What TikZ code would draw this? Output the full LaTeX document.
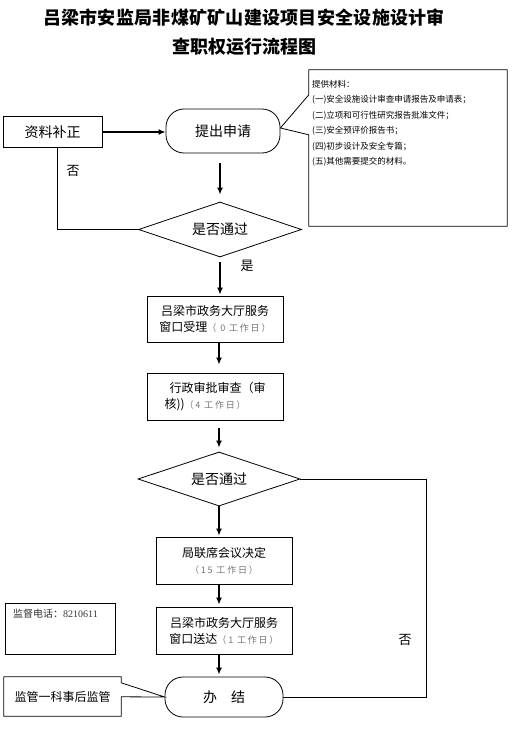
\documentclass[tikz,border=0pt]{standalone}
\usepackage{fontspec}
\setmainfont{Noto Sans CJK SC}
\newfontfamily\numfont{Liberation Serif}
\usetikzlibrary{arrows.meta, shapes.geometric}
\newcommand{\workday}[1]{{\fontsize{9}{16}\selectfont\addfontfeature{LetterSpace=20}\color{black!55}#1}}

\begin{document}
\begin{tikzpicture}[
    x=1pt, y=-1pt,
    >={Latex[length=7pt, width=6pt]},
  ]
  \tikzset{
    proc_box/.style = {draw, line width=0.8pt, minimum width=136pt, minimum height=47pt, align=center, font=\fontsize{12}{16}\selectfont},
    end_box/.style = {draw, line width=0.8pt, rounded corners=18pt, minimum width=116pt, minimum height=42pt, font=\fontsize{14}{16}\selectfont},
    ask_box/.style = {draw, diamond, aspect=3, line width=0.8pt, minimum width=163pt, minimum height=55pt, inner sep=0pt, font=\fontsize{14}{16}\selectfont},
    flow_arr/.style = {->, line width=1.8pt},
    side_txt/.style = {font=\fontsize{13}{15}\selectfont},
  }
  \useasboundingbox (0,0) rectangle (530,738);

  % Title
  \node (head_a) at (244,18) {\fontsize{18}{18}\selectfont\bfseries\addfontfeature{LetterSpace=1.5}吕梁市安监局非煤矿矿山建设项目安全设施设计审};
  \node (head_b) at (244,47) {\fontsize{18}{18}\selectfont\bfseries 查职权运行流程图};

  % Main column
  \node[end_box, minimum width=114pt, minimum height=44pt] (submit) at (223,131) {提出申请};
  \node[ask_box] (ask_a) at (220,229.5) {是否通过};
  \node[proc_box, minimum height=46pt] (accept) at (215,319) {吕梁市政务大厅服务\\窗口受理\workday{（ 0 工作日）}};
  \node[proc_box, align=left] (review) at (215,396.5) {\hspace{5pt}行政审批审查（审\\核))\workday{（4 工作日）}};
  \node[ask_box, minimum width=162pt, minimum height=54pt] (ask_b) at (219,479) {是否通过};
  \node[proc_box] (meeting) at (224,560.5) {局联席会议决定\\\workday{（15 工作日）}};
  \node[proc_box] (deliver) at (224,630.5) {吕梁市政务大厅服务\\窗口送达\workday{（1 工作日）}};
  \node[end_box, minimum width=118pt, minimum height=40pt] (done) at (224,697) {办\hspace{14pt}结};

  % Left side boxes
  \node[draw, line width=0.8pt, minimum width=99pt, minimum height=31pt, font=\fontsize{14}{16}\selectfont] (fix) at (52.5,132) {资料补正};
  \node[draw, line width=0.8pt, minimum width=110pt, minimum height=51pt] (phone) at (60,628.5) {};
  \node[anchor=north west, inner sep=0pt, font=\fontsize{10}{12}\selectfont, text=black!80] (phone_txt) at (13,609) {监督电话：{\numfont 8210611}};
  \node[minimum width=117pt, minimum height=39pt, inner sep=0pt, font=\fontsize{12}{14}\selectfont] (watch) at (62.5,696.5) {监管一科事后监管};

  % Materials callout
  \node[minimum width=198pt, minimum height=156pt, inner sep=0pt] (mat) at (408,148) {};
  \node[anchor=north west, align=left, inner sep=0pt, font=\fontsize{8.5}{15.5}\selectfont] (mat_txt) at (312,80)
    {提供材料：\\(一)安全设施设计审查申请报告及申请表；\\(二)立项和可行性研究报告批准文件；\\(三)安全预评价报告书；\\(四)初步设计及安全专篇；\\(五)其他需要提交的材料。};
  \draw[line width=0.8pt] (mat.north west) -- (mat.north east) -- (mat.south east) -- (mat.south west)
    -- ([yshift=-65pt]mat.north west) -- ([yshift=3pt]submit.east) -- ([yshift=-25pt]mat.north west) -- cycle;

  % Supervision callout
  \draw[line width=0.8pt] (watch.north west) -- (watch.north east) -- ([yshift=-6pt]watch.north east)
    -- (done.west) -- ([yshift=-20pt]watch.north east) -- (watch.south east) -- (watch.south west) -- cycle;

  % Flow arrows
  \draw[flow_arr] (fix.east) -- (fix.east -| submit.west);
  \draw[flow_arr, shorten <=10pt, shorten >=7pt] (submit.south -| ask_a.north) -- (ask_a.north);
  \draw[flow_arr, shorten <=5pt, shorten >=1pt] (ask_a.south) -- (ask_a.south |- accept.north);
  \draw[flow_arr, shorten >=8pt] (accept.south -| ask_b.north) -- (ask_b.north |- review.north);
  \draw[flow_arr, shorten <=8pt, shorten >=4pt] (review.south -| ask_b.north) -- (ask_b.north);
  \draw[flow_arr, shorten >=1pt] (ask_b.south) -- (ask_b.south |- meeting.north);
  \draw[flow_arr, shorten >=2pt] (meeting.south -| ask_b.south) -- (ask_b.south |- deliver.north);
  \draw[flow_arr, shorten >=2pt] (deliver.south -| ask_b.south) -- (ask_b.south |- done.north);

  % Return paths
  \coordinate (back_r) at (426,482);
  \draw[line width=0.8pt] ([xshift=5pt]fix.south) |- (ask_a.west);
  \draw[line width=0.8pt] (ask_b.east) -- (ask_b.east -| back_r) |- (done.east);

  % Labels
  \node[side_txt] (no_a) at (73,171) {否};
  \node[side_txt] (yes_a) at (247,266) {是};
  \node[side_txt] (no_b) at (405,640) {否};

\end{tikzpicture}
\end{document}
